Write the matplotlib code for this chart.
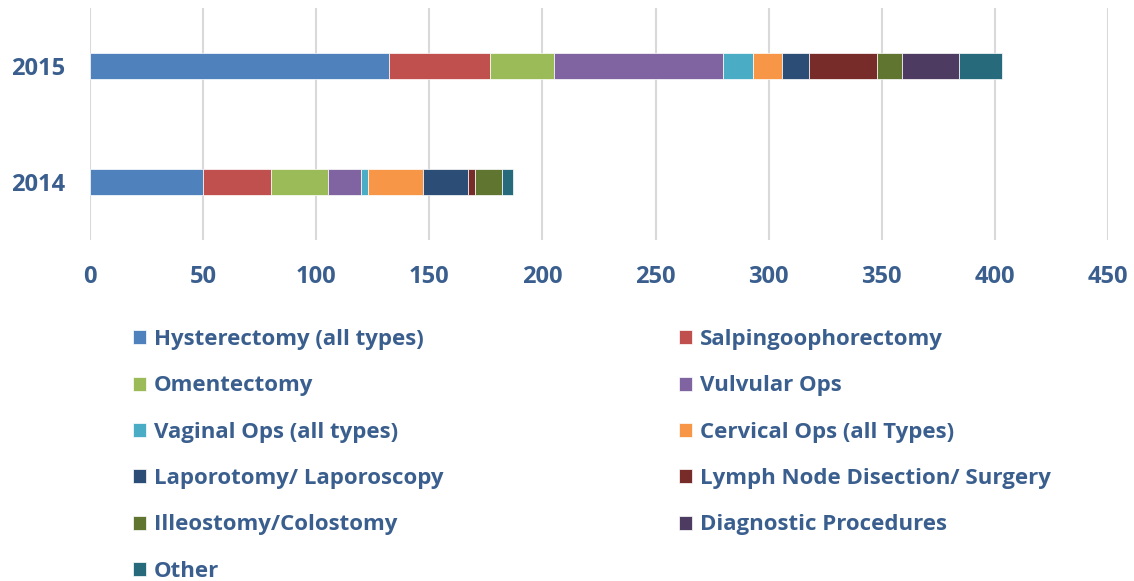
import numpy as np
import matplotlib.pyplot as plt
import matplotlib.ticker as ticker

years = ['2014', '2015']
categories = ['Hysterectomy (all types)', 'Salpingoophorectomy', 'Omentectomy',
              'Vulvular Ops', 'Vaginal Ops (all types)', 'Cervical Ops (all Types)',
              'Laporotomy/ Laporoscopy', 'Lymph Node Disection/ Surgery',
              'Illeostomy/Colostomy', 'Diagnostic Procedures', 'Other']
# values per category: [2014, 2015]
hysterectomy = [50, 132]
salpingo = [30, 45]
omentectomy = [25, 28]
vulvular = [15, 75]
vaginal = [3, 13]
cervical = [24, 13]
laparotomy = [20, 12]
lymph = [3, 30]
illeostomy = [12, 11]
diagnostic = [0, 25]
other = [5, 19]
series = [hysterectomy, salpingo, omentectomy, vulvular, vaginal, cervical,
          laparotomy, lymph, illeostomy, diagnostic, other]
colors = ['#4F81BD', '#C0504D', '#9BBB59', '#8064A2', '#4BACC6', '#F79646',
          '#2C4D75', '#772C2A', '#5F7530', '#4D3B62', '#276A7C']

txt = '#3A5F8E'
plt.rcParams['font.family'] = ['Open Sans', 'DejaVu Sans']
plt.rcParams['font.weight'] = 'bold'

fig = plt.figure(figsize=(11.34, 5.81), dpi=100)
ax = fig.add_axes([0.0794, 0.587, 0.977 - 0.0794, 0.986 - 0.587])

ypos = np.arange(len(years))
left = np.zeros(len(years))
handles = []
for vals, c, lab in zip(series, colors, categories):
    b = ax.barh(ypos, vals, left=left, height=0.22, color=c, edgecolor='white',
                linewidth=0.5, label=lab)
    handles.append(b)
    left += np.array(vals)

ax.set_xlim(0, 450)
ax.set_ylim(-0.5, 1.5)
ax.set_yticks(ypos)
ax.set_yticklabels(years)
ax.xaxis.set_major_locator(ticker.MultipleLocator(50))
ax.grid(axis='x', color='#D9D9D9', linewidth=1.5)
ax.set_axisbelow(True)
for s in ax.spines.values():
    s.set_visible(False)
ax.tick_params(length=0, labelsize=17, labelcolor=txt)
ax.tick_params(axis='x', pad=18)
ax.tick_params(axis='y', pad=18)

# legend ordered row-wise across two columns
order = list(range(0, 11, 2)) + list(range(1, 11, 2))
leg = fig.legend([handles[i] for i in order], [categories[i] for i in order],
                 ncol=2, loc='upper left', bbox_to_anchor=(0.117, 0.4335),
                 frameon=False, fontsize=16, handlelength=0.6, handleheight=0.6,
                 handletextpad=0.35, labelspacing=1.14, columnspacing=10.6,
                 borderpad=0, borderaxespad=0)
for t in leg.get_texts():
    t.set_color(txt)

plt.savefig('out.png', dpi=100)
